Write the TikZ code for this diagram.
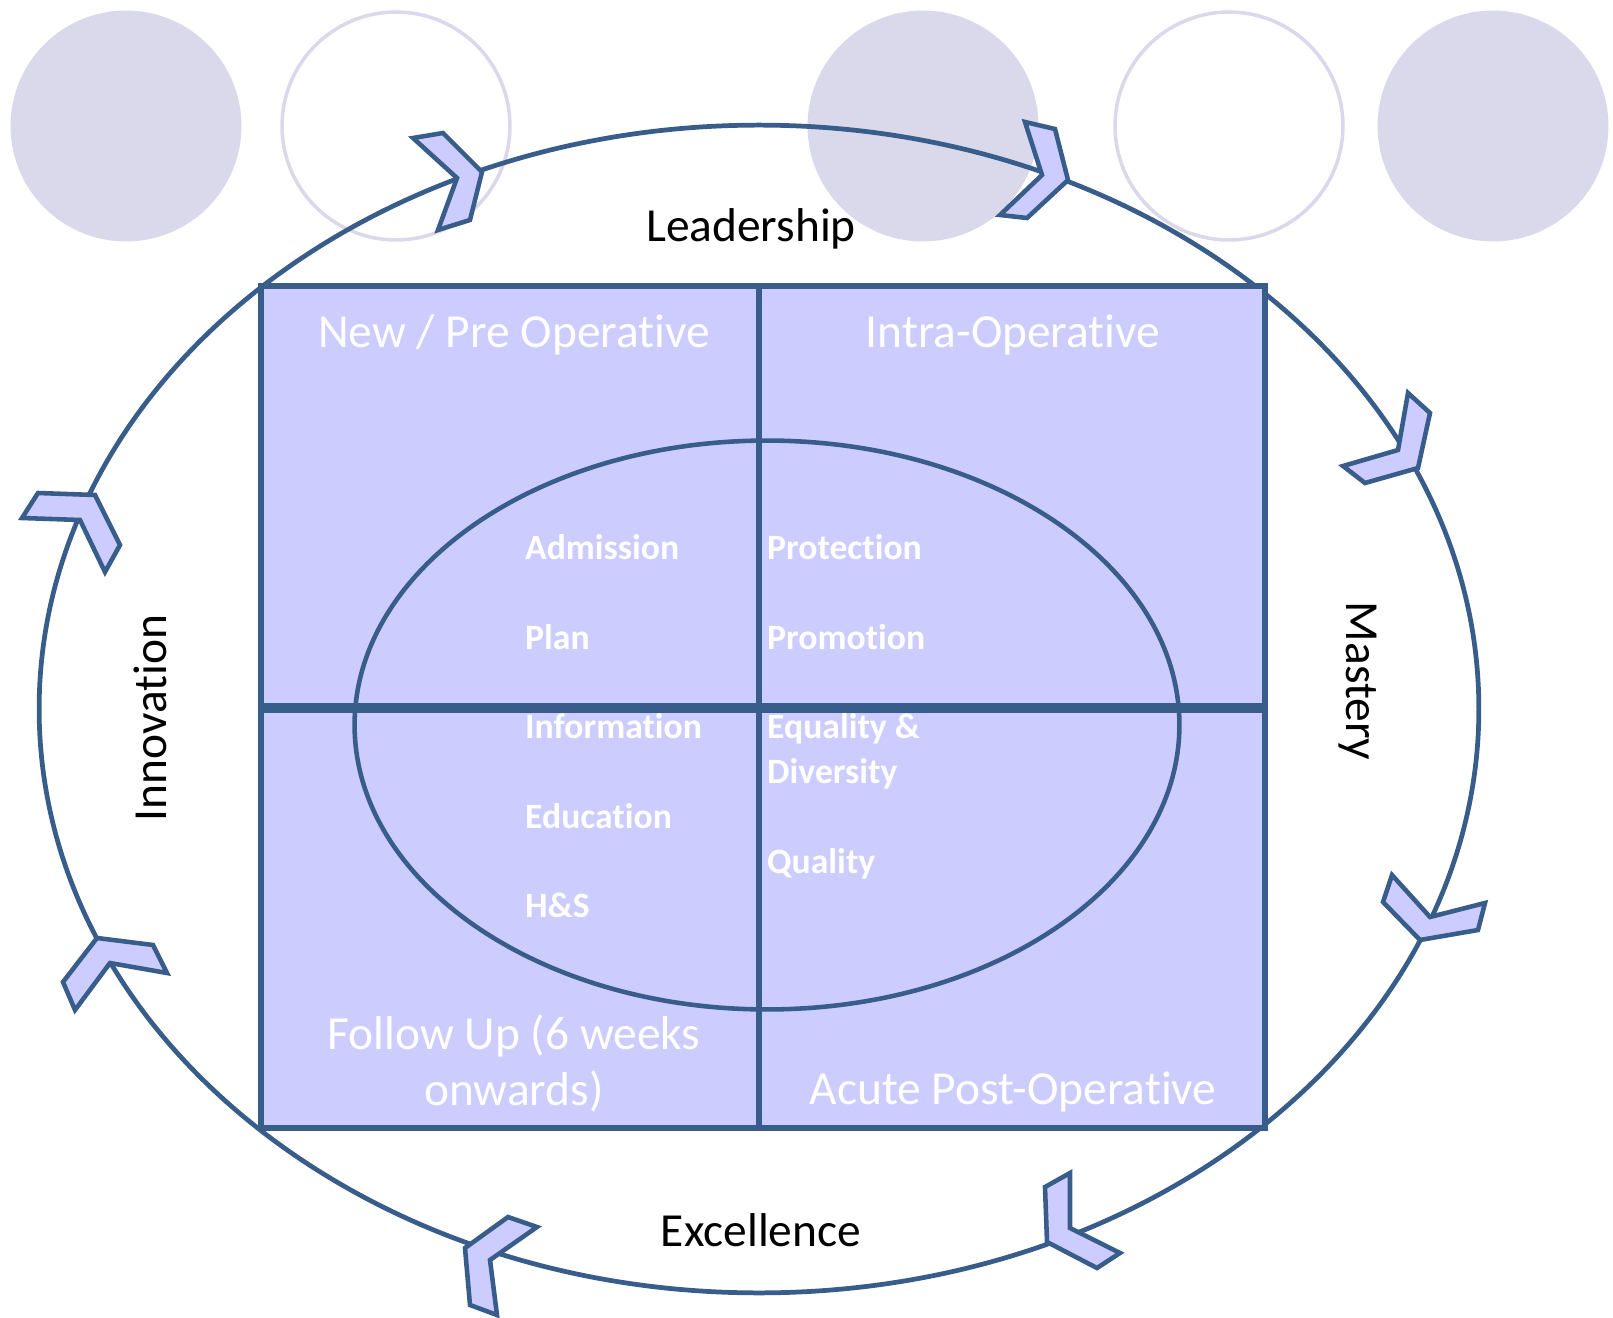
\documentclass[tikz,border=0pt]{standalone}
\usepackage{fontspec}
\setmainfont{Carlito}[Ligatures=NoCommon]
\usetikzlibrary{positioning}

\definecolor{frameblue}{HTML}{385D8A}
\definecolor{quadfill}{HTML}{CCCCFF}
\definecolor{dotfill}{HTML}{DAD8EB}

\begin{document}
\begin{tikzpicture}[
    x=0.02cm, y=-0.02cm,
    dot/.style={circle, fill=dotfill, minimum size=4.62cm, inner sep=0pt},
    ring/.style={circle, draw=dotfill, line width=2pt, minimum size=4.56cm, inner sep=0pt},
    quad/.style={draw=frameblue, fill=quadfill, line width=2.9pt},
    chevron/.style={draw=frameblue, fill=quadfill, line width=2.6pt, line join=miter},
    value/.style={font=\fontsize{27}{32}\selectfont, anchor=base},
    phase/.style={font=\fontsize{27}{32}\selectfont, text=white, anchor=base},
    item/.style={font=\bfseries\fontsize{20.3}{25}\selectfont, text=white, anchor=base west}
]
\useasboundingbox (0,0) rectangle (1613,1318);

% Circles along the top
\node[dot] (c1) at (126,126) {};
\node[ring] (c2) at (396,126) {};
\node[dot] (c3) at (923,126) {};
\node[ring] (c4) at (1229,126) {};
\node[dot] (c5) at (1493,126) {};

% Outer cycle
\draw[frameblue, line width=2.7pt] (759,709) ellipse [x radius=14.4cm, y radius=11.68cm];

% Quadrants
\draw[quad] (261,286) rectangle (759,706);
\draw[quad] (759,286) rectangle (1265,706);
\draw[quad] (261,710) rectangle (759,1128);
\draw[quad] (759,710) rectangle (1265,1128);

% Inner ellipse
\draw[frameblue, line width=2.6pt] (767,725) ellipse [x radius=8.25cm, y radius=5.69cm];

% Chevrons on the cycle
\draw[chevron] (413,138) -- (443,133) -- (482,172) -- (470,220) -- (438,230) -- (457,178) -- cycle;
\draw[chevron] (1025,122) -- (1055,129) -- (1068,180) -- (1027,218) -- (1000,215) -- (1042,175) -- cycle;
\draw[chevron] (1408,393) -- (1430,413) -- (1418,468) -- (1365,483) -- (1343,466) -- (1398,450) -- cycle;
\draw[chevron] (1392,875) -- (1383,902) -- (1420,940) -- (1478,930) -- (1485,903) -- (1430,917) -- cycle;
\draw[chevron] (1070,1173) -- (1045,1187) -- (1047,1242) -- (1097,1268) -- (1120,1253) -- (1070,1228) -- cycle;
\draw[chevron] (537,1227) -- (508,1217) -- (465,1248) -- (470,1305) -- (497,1315) -- (490,1260) -- cycle;
\draw[chevron] (167,973) -- (153,945) -- (97,938) -- (63,982) -- (75,1010) -- (110,963) -- cycle;
\draw[chevron] (22,518) -- (38,493) -- (95,495) -- (120,545) -- (105,572) -- (80,520) -- cycle;

% Values round the cycle
\node[value] (lead) at (751,241) {Leadership};
\node[value] (excel) at (761,1246) {Excellence};
\node[value, rotate=90] (innov) at (166,718) {Innovation};
\node[value, rotate=-90] (mast) at (1346,681) {Mastery};

% Phase titles
\node[phase] (preop) at (514,347) {New / Pre Operative};
\node[phase] (intraop) at (1013,347) {Intra-Operative};
\node[phase] (follow) at (514,1049) {Follow Up (6 weeks};
\node[phase] (onwards) at (514,1105) {onwards)};
\node[phase] (postop) at (1013,1104) {Acute Post-Operative};

% Items, left column
\node[item] (admission) at (519,559) {Admission};
\node[item] (plan) at (519,649) {Plan};
\node[item] (info) at (519,738) {Information};
\node[item] (edu) at (519,828) {Education};
\node[item] (hs) at (519,917) {H\&S};

% Items, right column
\node[item] (protect) at (761,559) {Protection};
\node[item] (promote) at (761,649) {Promotion};
\node[item] (equal) at (761,738) {Equality \&};
\node[item] (divers) at (761,783) {Diversity};
\node[item] (quality) at (761,873) {Quality};

\end{tikzpicture}
\end{document}
